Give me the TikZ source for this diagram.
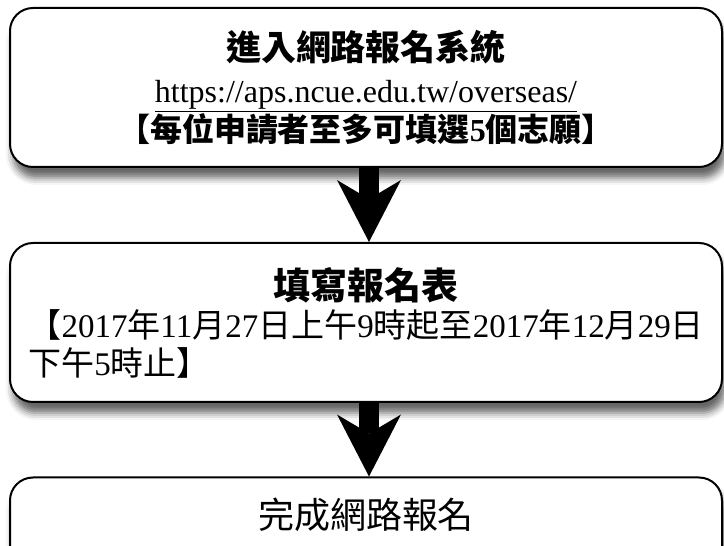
\documentclass[tikz,border=0pt]{standalone}
\usepackage{fontspec}
\setmainfont{Liberation Serif}
\newfontfamily\hanzi{Noto Sans CJK TC}
\usetikzlibrary{arrows.meta,shadows.blur}

\begin{document}
\begin{tikzpicture}[x=1pt,y=1pt]

    \tikzstyle{stepbox}=[draw, line width=2pt, rounded corners=23pt, fill=white, minimum width=712pt, minimum height=159pt, inner sep=0pt, blur shadow={shadow xshift=3pt, shadow yshift=-11pt, shadow blur radius=7pt, shadow opacity=60}]
    \tikzstyle{bigarrow}=[line width=20pt, -{Stealth[length=62pt, width=64pt, inset=19pt, line width=0pt]}]

    \def \boxX {366} % centre line of the boxes
    \def \arrowShift {3pt} % the arrows sit a little right of the centre

    \useasboundingbox (0,0) rectangle (724,546);

    % the steps, top to bottom
    \node[stepbox, align=center, anchor=north, font=\fontsize{32}{39}\selectfont] (enter_system) at (\boxX,539)
        {{\hanzi\bfseries\fontsize{35}{39}\selectfont 進入網路報名系統}\\[3pt]
         \underline{https://aps.ncue.edu.tw/overseas/}\\
         {\bfseries\fontsize{32}{39}\selectfont{\hanzi 【每位申請者至多可填選}5{\hanzi 個志願】}}};
    \node[stepbox, text width=675pt, align=left, anchor=north, font=\fontsize{33}{38}\selectfont] (fill_form) at (\boxX,304)
        {{\centering\hanzi\bfseries\fontsize{37}{35}\selectfont 填寫報名表\par}
         {\hanzi 【}2017{\hanzi 年}11{\hanzi 月}27{\hanzi 日上午}9{\hanzi 時起至}2017{\hanzi 年}12{\hanzi 月}29{\hanzi 日}\\
         {\hanzi 下午}5{\hanzi 時止】}};
    \node[stepbox, minimum height=100pt, text height=51.5pt, text depth=60pt, anchor=north, font=\hanzi\fontsize{36}{40}\selectfont] (finish_signup) at (\boxX,69.5)
        {完成網路報名};

    % arrows between the steps
    \draw[bigarrow] ([xshift=\arrowShift]enter_system.south) -- ([xshift=\arrowShift]fill_form.north);
    \draw[bigarrow] ([xshift=\arrowShift]fill_form.south) -- ([xshift=\arrowShift]finish_signup.north);

\end{tikzpicture}
\end{document}
